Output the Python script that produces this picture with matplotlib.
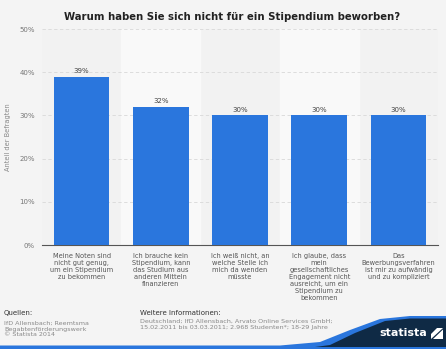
import numpy as np
import matplotlib.pyplot as plt
from matplotlib.patches import Rectangle, Polygon

# Daten
kategorien = [
    "Meine Noten sind\nnicht gut genug,\num ein Stipendium\nzu bekommen",
    "Ich brauche kein\nStipendium, kann\ndas Studium aus\nanderen Mitteln\nfinanzieren",
    "Ich weiß nicht, an\nwelche Stelle ich\nmich da wenden\nmüsste",
    "Ich glaube, dass\nmein\ngesellschaftliches\nEngagement nicht\nausreicht, um ein\nStipendium zu\nbekommen",
    "Das\nBewerbungsverfahren\nist mir zu aufwändig\nund zu kompliziert",
]
werte = [39, 32, 30, 30, 30]
y_ticks = [0, 10, 20, 30, 40, 50]

W, H = 446, 349
fig = plt.figure(figsize=(W / 100, H / 100), dpi=100)
fig.patch.set_facecolor('#f4f4f4')

# Achse in Pixelkoordinaten
x0, x1, ytop, ybot = 42, 438, 29, 245
ax = fig.add_axes([x0 / W, 1 - ybot / H, (x1 - x0) / W, (ybot - ytop) / H])
ax.set_facecolor('#f2f2f2')

x = np.arange(len(werte))
for i in x:
    if i % 2 == 1:
        ax.axvspan(i - 0.5, i + 0.5, color='#f9f9f9', zorder=0)

ax.bar(x, werte, width=0.7, color='#2a76dd', zorder=3)
for i, v in zip(x, werte):
    ax.text(i, v + 0.6, f"{v}%", ha='center', va='bottom', fontsize=5, color='#444444')

ax.set_xlim(-0.5, len(werte) - 0.5)
ax.set_ylim(0, 50)
ax.set_yticks(y_ticks)
ax.set_yticklabels([f"{t}%" for t in y_ticks], fontsize=5, color='#777777')
ax.yaxis.grid(True, linestyle=(0, (4, 3)), color='#d8d8d8', linewidth=0.6, zorder=1)
ax.tick_params(axis='y', length=0, pad=5)
ax.tick_params(axis='x', length=0, pad=6)
ax.set_xticks(x)
ax.set_xticklabels(kategorien, fontsize=4.8, color='#555555', linespacing=1.2, va='top')
for s in ['top', 'right', 'left']:
    ax.spines[s].set_visible(False)
ax.spines['bottom'].set_color('#555555')
ax.spines['bottom'].set_linewidth(0.8)
ax.set_ylabel("Anteil der Befragten", fontsize=4.8, color='#888888', labelpad=6)

fig.text(232 / W, 1 - 17 / H, "Warum haben Sie sich nicht für ein Stipendium beworben?",
         ha='center', va='center', fontsize=7.3, fontweight='bold', color='#222222')

# Fußzeile
fig.text(4 / W, 1 - 313 / H, "Quellen:", fontsize=5, color='#333333', va='center')
fig.text(4 / W, 1 - 329 / H, "IfD Allensbach; Reemtsma\nBegabtenförderungswerk\n© Statista 2014",
         fontsize=4.6, color='#888888', va='center', linespacing=1.25)
fig.text(140 / W, 1 - 313 / H, "Weitere Informationen:", fontsize=5, color='#333333', va='center')
fig.text(140 / W, 1 - 324 / H,
         "Deutschland; IfD Allensbach, Arvato Online Services GmbH;\n15.02.2011 bis 03.03.2011; 2.968 Studenten*; 18-29 Jahre",
         fontsize=4.6, color='#888888', va='center', linespacing=1.25)

fa = fig.add_axes([0, 0, 1, 1], zorder=-1)
fa.set_xlim(0, W)
fa.set_ylim(H, 0)
fa.axis('off')
# blaue Welle
fa.add_patch(Polygon([[0, 345.5], [280, 345.5], [320, 342], [350, 330], [380, 319], [410, 316],
                      [446, 316], [446, 349], [0, 349]], closed=True, color='#2a76dd', lw=0))
# dunkler Bereich
fa.add_patch(Polygon([[300, 349], [330, 345], [355, 333], [385, 321], [410, 318.5],
                      [446, 318.5], [446, 349]], closed=True, color='#0f2a45', lw=0))
fa.add_patch(Rectangle((0, 346.5), W, 2.5, color='#2a76dd', lw=0))
fig.text(427 / W, 1 - 333 / H, "statista", fontsize=8, fontweight='bold', color='white',
         ha='right', va='center')
# Logo: Quadrat mit Diagonale
fa.add_patch(Polygon([[431, 339], [431, 334], [437, 328], [443, 328]], closed=True, color='white', lw=0))
fa.add_patch(Polygon([[433, 339], [443, 329.5], [443, 339]], closed=True, color='white', lw=0))

fig.savefig('out.png', dpi=100, facecolor=fig.get_facecolor())
